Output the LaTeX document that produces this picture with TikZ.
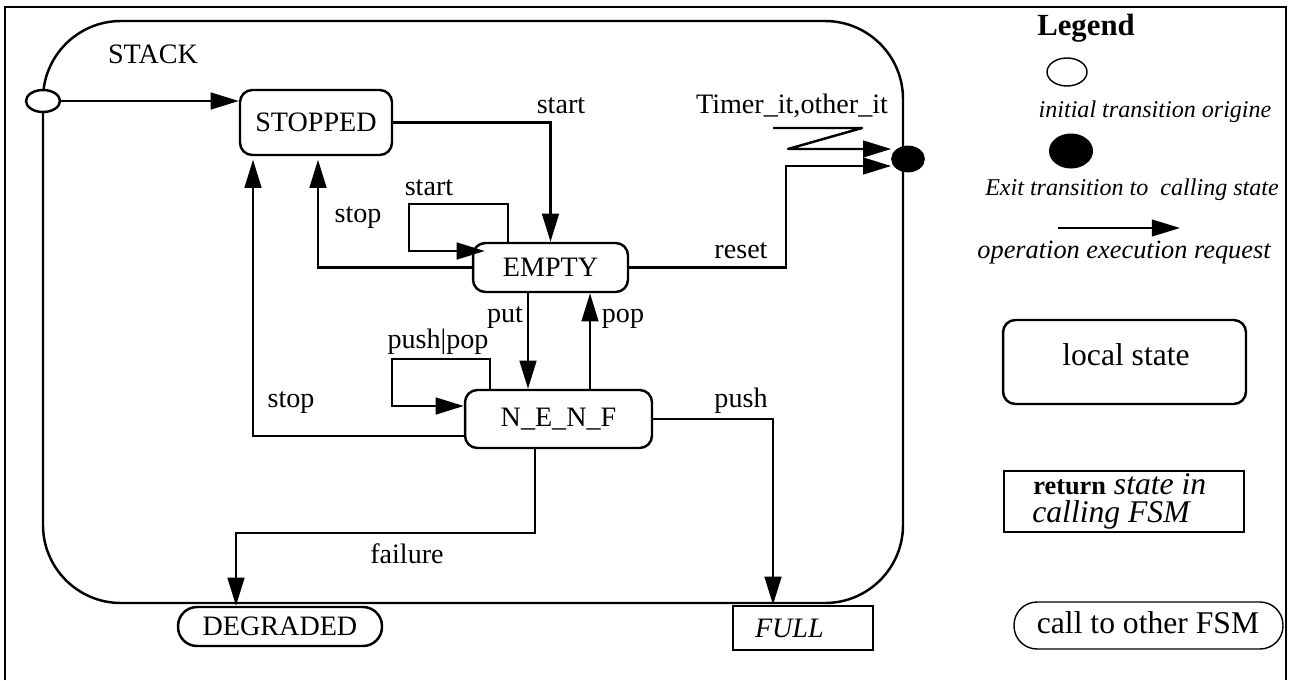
\documentclass[tikz,border=0pt]{standalone}
\usepackage{fontspec}
\setmainfont{Liberation Serif}
\usetikzlibrary{arrows.meta,shapes.geometric,calc}

\begin{document}
\begin{tikzpicture}[x=0.02cm,y=-0.02cm,
  trans/.style={line width=1.4pt,-{Triangle[length=16pt,width=9.5pt]}},
  statebox/.style={draw,line width=1.4pt,rounded corners=7pt,inner sep=0pt,
    font=\fontsize{16}{19}\selectfont},
  lbl/.style={inner sep=0pt,anchor=base,font=\fontsize{16}{19}\selectfont},
  itlbl/.style={inner sep=0pt,anchor=base,font=\itshape\fontsize{13.7}{16}\selectfont},
  bigtxt/.style={inner sep=0pt,anchor=base,font=\fontsize{18}{20}\selectfont}]

\useasboundingbox (0,0) rectangle (1291,680);

% page frame
\draw[line width=1.1pt] (5,680) -- (5,7) -- (1286,7) -- (1286,680);

% STACK super-state
\draw[line width=1.4pt,rounded corners=1.56cm] (43,21) rectangle (903,603);
\node[lbl] (stackname) at (153,63) {STACK};

% entry and exit points
\node[ellipse,draw,fill=white,line width=1.4pt,minimum width=0.68cm,
  minimum height=0.44cm,inner sep=0pt] (init) at (43,101) {};
\node[ellipse,draw,fill=black,line width=1pt,minimum width=0.64cm,
  minimum height=0.5cm,inner sep=0pt] (exit) at (908,159) {};

% states
\node[statebox,minimum width=3.04cm,minimum height=1.3cm] (STOPPED) at (316,122.5) {STOPPED};
\node[statebox,minimum width=3.1cm,minimum height=0.98cm] (EMPTY) at (550.5,267.5) {EMPTY};
\node[statebox,minimum width=3.74cm,minimum height=1.16cm] (NENF) at (558.5,419) {N\_E\_N\_F};
\node[draw,line width=1.4pt,rounded corners=0.38cm,minimum width=4.08cm,
  minimum height=0.78cm,inner sep=0pt,font=\fontsize{16}{19}\selectfont]
  (DEGRADED) at (280,626.5) {DEGRADED};
\node[draw,line width=1.4pt,minimum width=2.8cm,minimum height=0.88cm,
  inner sep=0pt,text width=1.92cm,align=left,
  font=\itshape\fontsize{16}{19}\selectfont] (FULL) at (803,628) {FULL};

% bend points
\coordinate (eloopR) at (508,204);
\coordinate (eloopL) at (409,204);
\coordinate (eloopE) at (409,251);
\coordinate (nloopR) at (490,359);
\coordinate (nloopL) at (392,359);
\coordinate (nloopE) at (392,406);
\coordinate (stopA) at (318,271);
\coordinate (stopB) at (253,436);
\coordinate (putx) at (528,0);
\coordinate (popx) at (590,0);
\coordinate (pushx) at (773,0);
\coordinate (failR) at (535,533);
\coordinate (failL) at (236,533);
\coordinate (resetC) at (786,166);
\coordinate (tmA) at (773,128);
\coordinate (tmB) at (862,128);
\coordinate (tmC) at (788,149);

% transitions
\draw[trans] (init.east) -- (init -| STOPPED.west);
\draw[trans] (STOPPED.east) -| (EMPTY.north);
\draw[trans] (EMPTY.north -| eloopR) -- (eloopR) -- (eloopL) -- (eloopE)
  -- ($(EMPTY.west |- eloopE)+(13,0)$);
\draw[trans,shorten >=2pt] (EMPTY.west) -| (STOPPED.south -| stopA);
\draw[trans,shorten >=2pt] (NENF.west |- stopB) -| (STOPPED.south -| stopB);
\draw[trans] (EMPTY.south -| putx) -- (NENF.north -| putx);
\draw[trans] (NENF.north -| popx) -- (EMPTY.south -| popx);
\draw[trans] (NENF.north -| nloopR) -- (nloopR) -- (nloopL) -- (nloopE)
  -- (NENF.west |- nloopE);
\draw[trans] (NENF.east) -| (FULL.north -| pushx);
\draw[trans] (NENF.south -| failR) -- (failR) -- (failL) -- (DEGRADED.north -| failL);
\draw[trans] (EMPTY.east) -| (resetC) -- (exit.west |- resetC);
\draw[trans,line join=round] (tmA) -- (tmB) -- (tmC) -- (exit.west |- tmC);

% transition labels
\node[lbl] (lblStart1) at (561,113) {start};
\node[lbl] (lblStart2) at (429,195) {start};
\node[lbl] (lblStop1) at (358,222) {stop};
\node[lbl] (lblStop2) at (291,407) {stop};
\node[lbl] (lblPut) at (505,322) {put};
\node[lbl] (lblPop) at (623,322) {pop};
\node[lbl] (lblPushPop) at (438,348) {push|pop};
\node[lbl] (lblPush) at (741,407) {push};
\node[lbl] (lblFailure) at (407,563) {failure};
\node[lbl] (lblReset) at (741,258) {reset};
\node[lbl] (lblTimer) at (792,113) {Timer\_it,other\_it};

% legend
\node[inner sep=0pt,anchor=base,font=\bfseries\fontsize{17.5}{20}\selectfont]
  (legTitle) at (1086,35) {Legend};
\node[ellipse,draw,line width=0.8pt,minimum width=0.8cm,minimum height=0.56cm,
  inner sep=0pt] (legInit) at (1067,72) {};
\node[itlbl] (legInitTxt) at (1155,117) {initial transition origine};
\node[ellipse,fill=black,minimum width=0.88cm,minimum height=0.7cm,
  inner sep=0pt] (legExit) at (1071,151) {};
\node[itlbl] (legExitTxt) at (1132,195) {Exit transition to\ \ calling state};
\coordinate (legA) at (1058,228);
\coordinate (legB) at (1180,228);
\draw[trans,line width=1.1pt] (legA) -- (legB);
\node[inner sep=0pt,anchor=base,font=\itshape\fontsize{15}{18}\selectfont]
  (legOpTxt) at (1124,258) {operation execution request};

\node[draw,line width=1.4pt,rounded corners=7pt,minimum width=4.86cm,
  minimum height=1.68cm,inner sep=0pt] (legLocal) at (1124.5,362) {};
\node[bigtxt] (legLocalTxt) at (1126,365) {local state};

\node[draw,line width=1.4pt,minimum width=4.8cm,minimum height=1.22cm,
  inner sep=0pt] (legReturn) at (1124,501.5) {};
\node[inner sep=0pt,anchor=base west,font=\fontsize{18}{20}\selectfont]
  (legRetA) at (1033,494) {{\bfseries\fontsize{15}{18}\selectfont return} \textit{state in}};
\node[inner sep=0pt,anchor=base west,font=\itshape\fontsize{18}{20}\selectfont]
  (legRetB) at (1032,522) {calling FSM};

\node[draw,line width=0.8pt,rounded corners=0.46cm,minimum width=5.38cm,
  minimum height=0.94cm,inner sep=0pt] (legCall) at (1148.5,625.5) {};
\node[bigtxt] (legCallTxt) at (1148,633) {call to other FSM};

\end{tikzpicture}
\end{document}
